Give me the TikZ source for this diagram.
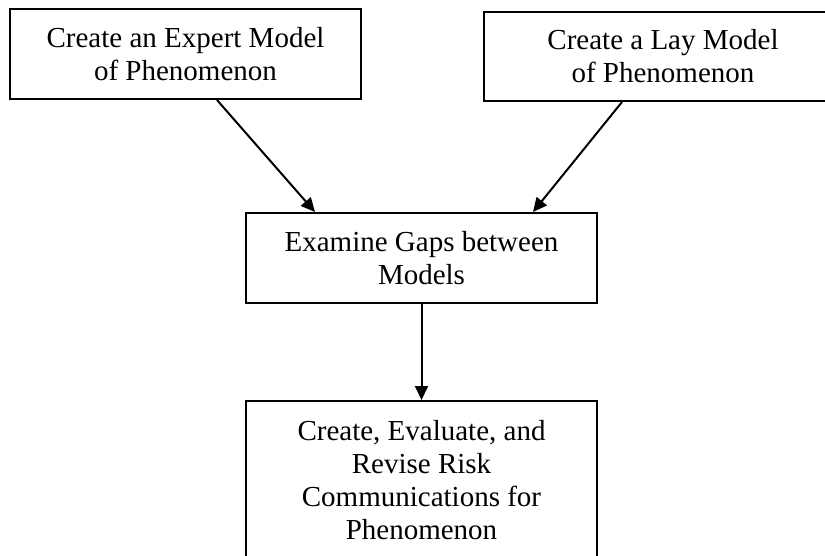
\documentclass[tikz,border=0pt]{standalone}
\usepackage{fontspec}
\setmainfont{Liberation Serif}
\usetikzlibrary{arrows.meta,calc}

\begin{document}
\begin{tikzpicture}[x=1pt,y=-1pt,
    stagebox/.style={draw,line width=2pt,align=center,inner sep=0pt,
      font=\fontsize{29}{33}\selectfont},
    flow/.style={line width=2pt,-{Triangle[length=14pt,width=13pt]}}]
        \useasboundingbox (0,0) rectangle (825,556);
        \node[stagebox,minimum width=351pt,minimum height=90pt] (expert) at (185.5,54) {Create an Expert Model\\of Phenomenon};
        \node[stagebox,minimum width=358pt,minimum height=89pt] (lay) at (663,56.5) {Create a Lay Model\\of Phenomenon};
        \node[stagebox,minimum width=351pt,minimum height=90pt] (gaps) at (421.5,258) {Examine Gaps between\\Models};
        \node[stagebox,minimum width=351pt,minimum height=158pt] (comms) at (421.5,480) {Create, Evaluate, and\\Revise Risk\\Communications for\\Phenomenon};
        \draw[flow] ([xshift=31.5pt]expert.south) -- ([xshift=-106.5pt]gaps.north);
        \draw[flow] ([xshift=-41pt]lay.south) -- ([xshift=111.5pt]gaps.north);
        \draw[flow] (gaps.south) -- (comms.north);
      \end{tikzpicture}
\end{document}
